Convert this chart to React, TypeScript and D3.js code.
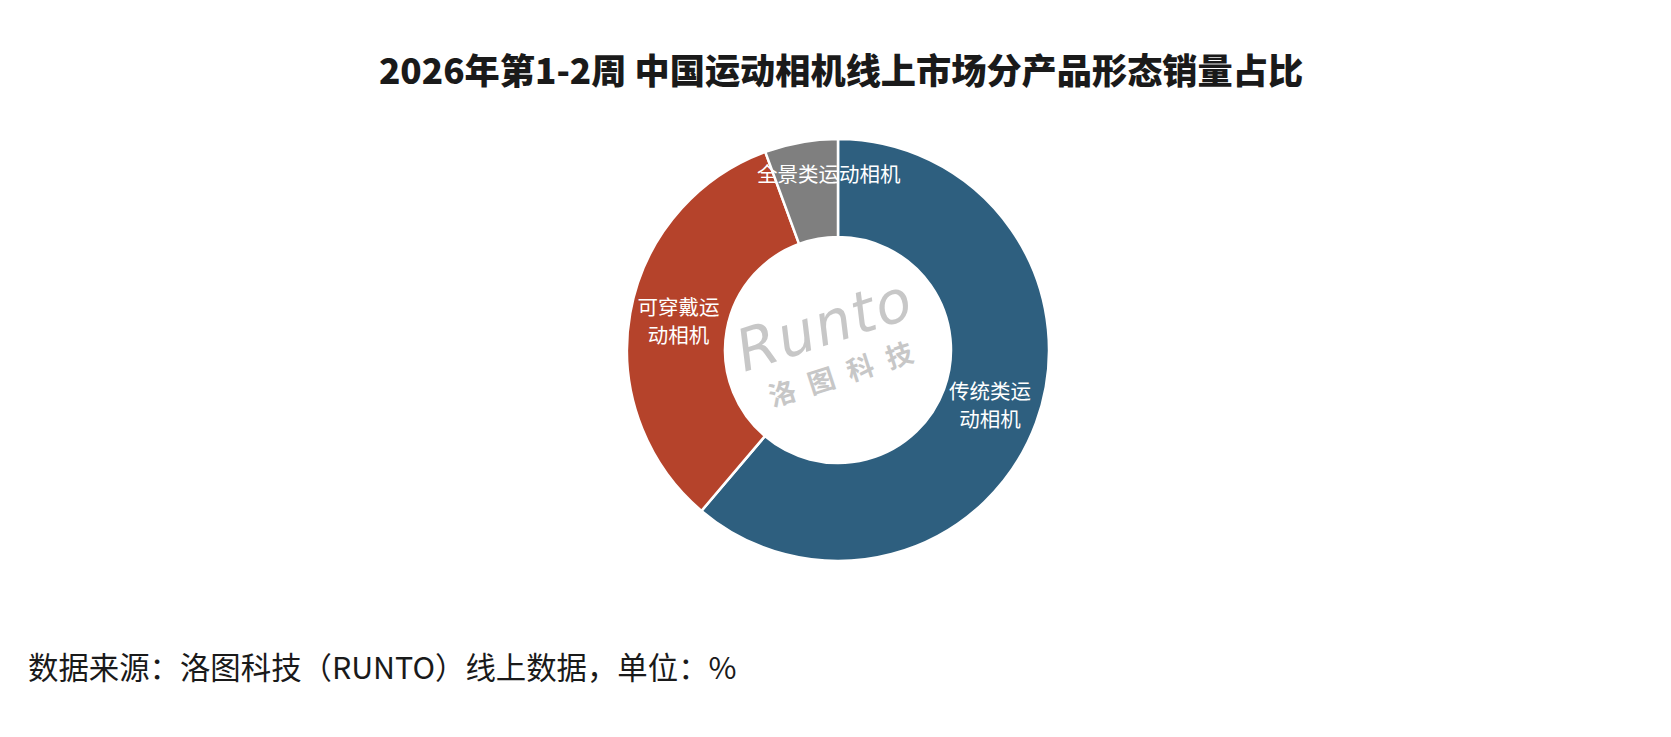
import React from 'react'
import * as d3 from 'd3'

const title = '2026年第1-2周 中国运动相机线上市场分产品形态销量占比'
const source = '数据来源：洛图科技（RUNTO）线上数据，单位：%'

const categories = ['传统类运动相机', '可穿戴运动相机', '全景类运动相机']
const shares = [61.2, 33.2, 5.6]
const labelLines = [['传统类运', '动相机'], ['可穿戴运', '动相机'], ['全景类运动相机']]
const colors = ['#2E5F7F', '#B5432B', '#7F7F7F']
// Excel pushes the small slice's label up and to the right
const labelNudge = [[0, 0], [0, 0], [19, -16]]

const width = 1671
const height = 737
const cx = 838
const cy = 350
const outerR = 211
const innerR = 113

const App: React.FunctionComponent = () => {
  const pie = d3
    .pie<number>()
    .sort(null)
    .value(d => d)

  const arc = d3
    .arc<d3.PieArcDatum<number>>()
    .innerRadius(innerR)
    .outerRadius(outerR)

  const arcs = pie(shares)
  const font = '"Noto Sans CJK SC", "Noto Sans", sans-serif'

  return (
    <svg
      width={width}
      height={height}
      style={{ position: 'absolute', left: 0, top: 0, background: '#fff' }}
    >
      <rect width={width} height={height} fill="#fff" />
      <text
        x={841}
        y={84}
        textAnchor="middle"
        fontFamily={font}
        fontWeight={800}
        fontSize={35.2}
        fill="#1a1a1a"
      >
        {title}
      </text>

      <g transform={`translate(${cx}, ${cy})`}>
        {arcs.map((a, i) => (
          <path
            key={categories[i]}
            d={arc(a) || ''}
            fill={colors[i]}
            stroke="#fff"
            strokeWidth={2.5}
          />
        ))}

        {/* watermark */}
        <g opacity={0.55} fill="#9a9a9a" fontFamily={font}>
          <text
            x={-5}
            y={-8}
            textAnchor="middle"
            fontSize={58}
            fontStyle="italic"
            fontWeight={300}
            fontFamily='"DejaVu Sans", sans-serif'
            transform="rotate(-18)"
            letterSpacing={2}
          >
            Runto
          </text>
          <text
            x={2}
            y={34}
            textAnchor="middle"
            fontSize={27}
            fontWeight={700}
            transform="rotate(-18)"
            letterSpacing={14}
          >
            洛图科技
          </text>
        </g>

        {arcs.map((a, i) => {
          const [x, y] = arc.centroid(a)
          const lines = labelLines[i]
          const lh = 28.5
          const x0 = x + labelNudge[i][0]
          const y0 = y + labelNudge[i][1] - ((lines.length - 1) * lh) / 2
          return (
            <text
              key={categories[i]}
              textAnchor="middle"
              fontFamily={font}
              fontSize={20.5}
              fill="#fff"
            >
              {lines.map((l, j) => (
                <tspan key={j} x={x0} y={y0 + j * lh} dy="0.35em">
                  {l}
                </tspan>
              ))}
            </text>
          )
        })}
      </g>

      <text x={28} y={679} fontFamily={font} fontSize={30.4} fill="#1a1a1a">
        {source}
      </text>
    </svg>
  )
}

export default App
